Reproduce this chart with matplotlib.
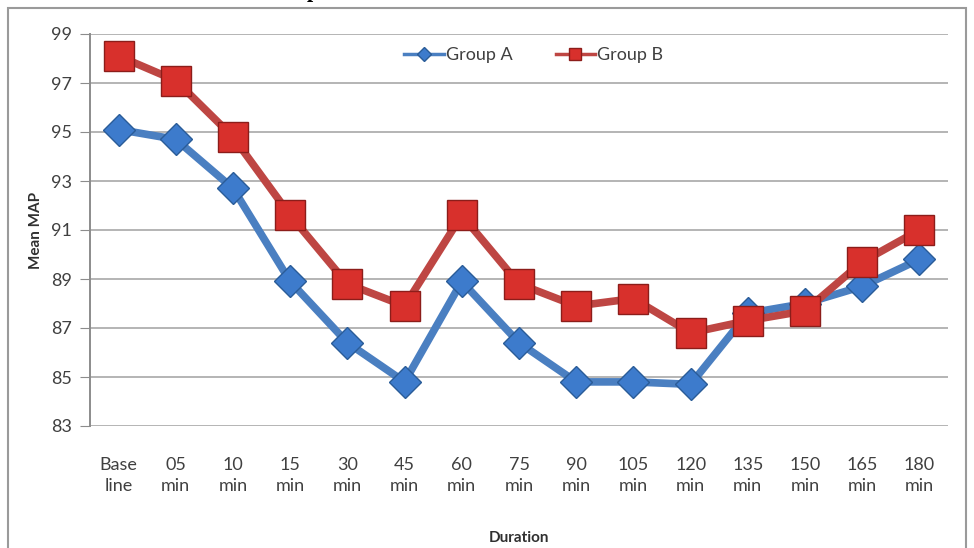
import matplotlib
matplotlib.use("Agg")
import matplotlib.pyplot as plt
from matplotlib.lines import Line2D
from matplotlib.patches import Rectangle

plt.rcParams.update({
    "font.family": "Lato",
    "font.size": 13,
})

durations = ["Base\nline", "05\nmin", "10\nmin", "15\nmin", "30\nmin", "45\nmin",
             "60\nmin", "75\nmin", "90\nmin", "105\nmin", "120\nmin", "135\nmin",
             "150\nmin", "165\nmin", "180\nmin"]
group_a = [95.1, 94.7, 92.7, 88.9, 86.4, 84.8, 88.9, 86.4, 84.8, 84.8, 84.7,
           87.6, 88.0, 88.7, 89.8]
group_b = [98.1, 97.1, 94.8, 91.6, 88.8, 87.9, 91.6, 88.8, 87.9, 88.2, 86.8,
           87.3, 87.7, 89.7, 91.0]
y_ticks = [83, 85, 87, 89, 91, 93, 95, 97, 99]

_A_LINE = "#4a7fc1"
_A_FACE = "#3d7bcc"
_A_EDGE = "#2a5c98"
_B_LINE = "#be4643"
_B_FACE = "#d8302c"
_B_EDGE = "#8c1d1a"
_TXT = "#404040"

fig = plt.figure(figsize=(9.74, 5.48), dpi=100)
ax = fig.add_axes([90 / 974, 1 - 426 / 548, 858 / 974, 392 / 548])

x = list(range(len(durations)))
ax.plot(x, group_a, color=_A_LINE, linewidth=5.5, marker="D", markersize=16,
        markerfacecolor=_A_FACE, markeredgecolor=_A_EDGE, markeredgewidth=1,
        zorder=3)
ax.plot(x, group_b, color=_B_LINE, linewidth=5.5, marker="s", markersize=21,
        markerfacecolor=_B_FACE, markeredgecolor=_B_EDGE, markeredgewidth=1,
        zorder=4)

ax.set_xlim(-0.5, len(durations) - 0.5)
ax.set_ylim(83, 99)
ax.set_yticks(y_ticks)
ax.set_xticks(x)
ax.set_xticklabels(durations, color=_TXT, linespacing=1.45)
ax.tick_params(axis="x", length=0, pad=22)
ax.tick_params(axis="y", length=7, color="#8c8c8c", labelcolor=_TXT, pad=6)
ax.grid(axis="y", color="#b4b4b4", linewidth=1.4)
ax.set_axisbelow(True)
for s in ["top", "right", "bottom"]:
    ax.spines[s].set_visible(False)
ax.spines["left"].set_color("#8c8c8c")
ax.spines["left"].set_linewidth(1.4)

ax.set_ylabel("Mean MAP", fontsize=11, fontweight="bold", color="#303030",
              labelpad=6)
ax.set_xlabel("Duration", fontsize=11, fontweight="bold", color="#303030",
              labelpad=26)

handles = [
    Line2D([], [], color=_A_LINE, linewidth=2.5, marker="D", markersize=7,
           markerfacecolor=_A_FACE, markeredgecolor=_A_EDGE),
    Line2D([], [], color=_B_LINE, linewidth=2.5, marker="s", markersize=9,
           markerfacecolor=_B_FACE, markeredgecolor=_B_EDGE),
]
ax.legend(handles, ["Group A", "Group B"], loc="center", ncol=2,
          bbox_to_anchor=(0.517, 0.946), frameon=False, fontsize=13,
          handlelength=2.2, handletextpad=0.1, columnspacing=2.4,
          labelcolor=_TXT)

# chart frame
fig.add_artist(Rectangle((8 / 974, -0.01), 958 / 974, 1 - 8 / 548 + 0.01,
                         transform=fig.transFigure, fill=False,
                         edgecolor="#9a9a9a", linewidth=1.5))

# cropped caption above the chart
fig.text(313 / 974, 1.005, "p", fontfamily="Liberation Serif", fontweight="bold",
         fontsize=16, va="baseline", ha="center")

fig.savefig("out.png", dpi=100)
